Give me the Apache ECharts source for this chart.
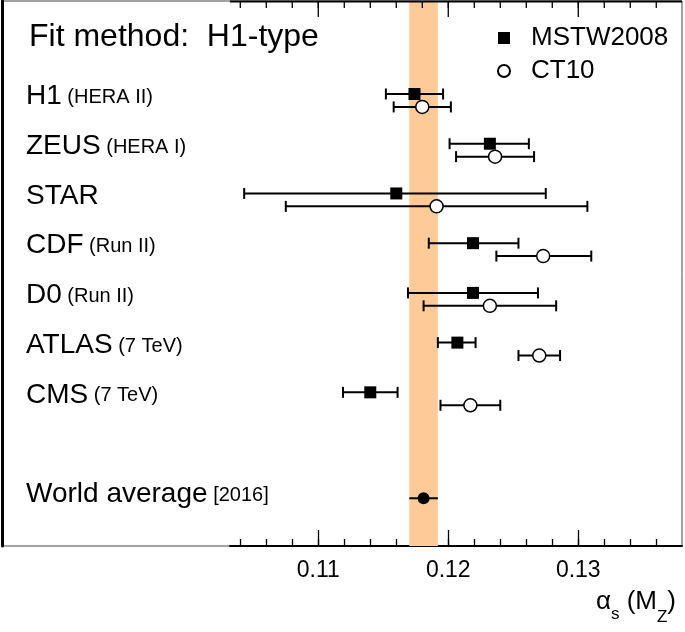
<!DOCTYPE html>
<html>
<head>
<meta charset="utf-8">
<script src="https://cdn.jsdelivr.net/npm/echarts@6/dist/echarts.min.js"></script>
<style>html,body{margin:0;padding:0;background:#fff;}#c{width:685px;height:632px;}</style>
</head>
<body>
<div id="c"></div>
<script>
// ---- data ----
const rowNames   = ['H1', 'ZEUS', 'STAR', 'CDF', 'D0', 'ATLAS', 'CMS'];
const rowSubs    = ['(HERA II)', '(HERA I)', '', '(Run II)', '(Run II)', '(7 TeV)', '(7 TeV)'];
const mstwCentral = [0.1174, 0.1232, 0.1160, 0.1219, 0.1219, 0.1207, 0.1140];
const mstwLow     = [0.1152, 0.1201, 0.1043, 0.1185, 0.1169, 0.1192, 0.1119];
const mstwHigh    = [0.1196, 0.1262, 0.1275, 0.1254, 0.1269, 0.1221, 0.1161];
const ct10Central = [0.1180, 0.1236, 0.1191, 0.1273, 0.1232, 0.1270, 0.1217];
const ct10Low     = [0.1158, 0.1206, 0.1075, 0.1237, 0.1181, 0.1254, 0.1194];
const ct10High    = [0.1202, 0.1266, 0.1307, 0.1310, 0.1283, 0.1286, 0.1240];
const worldName = 'World average';
const worldSub  = '[2016]';
const worldCentral = 0.1181;
const worldError   = 0.0011;
const majorTicks = [0.11, 0.12, 0.13];
const minorTicks = [0.104,0.106,0.108,0.110,0.112,0.114,0.116,0.118,0.120,0.122,0.124,0.126,0.128,0.130,0.132,0.134,0.136];
const tickLabels = ['0.11', '0.12', '0.13'];

// ---- layout ----
const FONT = '"Liberation Sans", Arial, sans-serif';
const WORLD_ROW = 8;
const OFF = 0.13;
const XMAX = 0.13798;
const XMIN_FULL = 0.085669;
const XMIN_AXIS = 0.103208;
const YMIN = -2, YMAX = 8.96;
const MAJOR_PX = 16, MINOR_PX = 7;

const labelMap = {};
rowNames.forEach((n, i) => { labelMap[i] = '{a|' + n + '}' + (rowSubs[i] ? '{b| ' + rowSubs[i] + '}' : ''); });
labelMap[WORLD_ROW] = '{a|' + worldName + '}{b| ' + worldSub + '}';

const mstwPts = rowNames.map((_, i) => [mstwCentral[i], i - OFF]);
const ct10Pts = rowNames.map((_, i) => [ct10Central[i], i + OFF]);
const mstwBars = rowNames.map((_, i) => [mstwLow[i], mstwHigh[i], i - OFF]);
const ct10Bars = rowNames.map((_, i) => [ct10Low[i], ct10High[i], i + OFF]);
const worldBars = [[worldCentral - worldError, worldCentral + worldError, WORLD_ROW]];

function errRender(caps) {
  return function (params, api) {
    const a = api.coord([api.value(0), api.value(2)]);
    const b = api.coord([api.value(1), api.value(2)]);
    const st = { stroke: '#000', lineWidth: 2 };
    const ch = [{ type: 'line', shape: { x1: a[0], y1: a[1], x2: b[0], y2: b[1] }, style: st }];
    if (caps) {
      const h = 5.5;
      ch.push({ type: 'line', shape: { x1: a[0], y1: a[1] - h, x2: a[0], y2: a[1] + h }, style: st });
      ch.push({ type: 'line', shape: { x1: b[0], y1: b[1] - h, x2: b[0], y2: b[1] + h }, style: st });
    }
    return { type: 'group', children: ch };
  };
}

const chart = echarts.init(document.getElementById('c'), null, { renderer: 'canvas' });
const grids = [
  { left: 2, top: 1, right: 3, bottom: 86, show: true, borderColor: '#444', borderWidth: 1, backgroundColor: 'transparent' },
  { left: 230, top: 1, right: 3, bottom: 86, show: false },
  { left: 230, top: 1, right: 3, bottom: 86, show: false }
];

const tickAxis = (grid, vals, len, withLabel, line) => ({
  type: 'value', gridIndex: grid, position: 'bottom', min: XMIN_AXIS, max: XMAX,
  axisLine: { show: line, onZero: false, lineStyle: { color: '#000', width: 2 } },
  axisTick: { show: true, inside: true, length: len, customValues: vals, lineStyle: { color: '#000', width: 1.3 } },
  axisLabel: withLabel ? {
    show: true, customValues: majorTicks, margin: 13, fontSize: 23, color: '#000', fontFamily: FONT,
    formatter: v => { const k = majorTicks.findIndex(m => Math.abs(m - v) < 1e-6); return k >= 0 ? tickLabels[k] : ''; }
  } : { show: false },
  splitLine: { show: false }
});

const cs = { xAxisIndex: 0, yAxisIndex: 0, silent: true };

const axisNameEl = {
  id: 'axisName', type: 'text', right: 9, top: 589, z: 100,
  style: {
    text: '{a|α}{s|s}{a| (M}{z|Z}{a|)}',
    fill: '#000',
    rich: {
      a: { fontFamily: FONT, fontSize: 26, fill: '#000', verticalAlign: 'bottom', lineHeight: 30 },
      s: { fontFamily: FONT, fontSize: 17, fill: '#000', verticalAlign: 'bottom', lineHeight: 30, padding: [0, 0, -8, 0] },
      z: { fontFamily: FONT, fontSize: 17, fill: '#000', verticalAlign: 'bottom', lineHeight: 30, padding: [0, 0, -11, 0] }
    }
  }
};

const option = {
  animation: false,
  backgroundColor: '#fff',
  textStyle: { fontFamily: FONT },
  grid: grids,
  title: {
    text: 'Fit method:  H1-type', left: 29, top: 21, padding: 0,
    textStyle: { fontFamily: FONT, fontSize: 32, fontWeight: 'normal', color: '#000' }
  },
  legend: {
    data: ['MSTW2008', 'CT10'], orient: 'vertical', left: 497, top: 25, padding: 0,
    itemWidth: 12, itemHeight: 12, itemGap: 7,
    textStyle: { fontFamily: FONT, fontSize: 26, color: '#000', lineHeight: 26, padding: [0, 0, 0, 16] }
  },
  graphic: [axisNameEl],
  xAxis: [
    { type: 'value', gridIndex: 0, min: XMIN_FULL, max: XMAX, show: false },
    tickAxis(1, majorTicks, 16, true, true),
    tickAxis(2, minorTicks, 7, false, false)
  ],
  yAxis: [
    {
      type: 'value', gridIndex: 0, inverse: true, min: YMIN, max: YMAX, interval: 1,
      axisLine: { show: true, onZero: false, lineStyle: { color: '#000', width: 3 } },
      axisTick: { show: false }, splitLine: { show: false },
      axisLabel: {
        inside: true, margin: 24, showMaxLabel: false, showMinLabel: false,
        formatter: v => labelMap[v] || '',
        rich: {
          a: { fontFamily: FONT, fontSize: 28, color: '#000', verticalAlign: 'bottom', padding: [0, 0, 8, 0] },
          b: { fontFamily: FONT, fontSize: 20, color: '#000', verticalAlign: 'bottom', padding: [0, 0, 11, 0] }
        }
      }
    },
    { type: 'value', gridIndex: 1, min: 0, max: 1, show: false },
    { type: 'value', gridIndex: 2, min: 0, max: 1, show: false }
  ],
  series: [
    Object.assign({
      name: 'band', type: 'custom', z: 1,
      renderItem: () => ({ type: 'group', children: [] }), data: [],
      markArea: {
        silent: true, itemStyle: { color: '#fecb98' },
        data: [[{ xAxis: worldCentral - worldError }, { xAxis: worldCentral + worldError }]]
      }
    }, cs),
    Object.assign({ name: 'mstwErr', type: 'custom', z: 3, renderItem: errRender(true), encode: { x: [0, 1], y: 2 }, data: mstwBars }, cs),
    Object.assign({ name: 'ct10Err', type: 'custom', z: 3, renderItem: errRender(true), encode: { x: [0, 1], y: 2 }, data: ct10Bars }, cs),
    Object.assign({ name: 'worldErr', type: 'custom', z: 3, renderItem: errRender(false), encode: { x: [0, 1], y: 2 }, data: worldBars }, cs),
    {
      name: 'MSTW2008', type: 'scatter', xAxisIndex: 0, yAxisIndex: 0, z: 5,
      symbol: 'rect', symbolSize: 12, itemStyle: { color: '#000', opacity: 1 }, data: mstwPts
    },
    {
      name: 'CT10', type: 'scatter', xAxisIndex: 0, yAxisIndex: 0, z: 5,
      symbol: 'circle', symbolSize: 13, itemStyle: { color: '#fff', borderColor: '#000', borderWidth: 1.5, opacity: 1 }, data: ct10Pts
    },
    {
      name: 'world', type: 'scatter', xAxisIndex: 0, yAxisIndex: 0, z: 5,
      symbol: 'circle', symbolSize: 12, itemStyle: { color: '#000', opacity: 1 }, data: [[worldCentral, WORLD_ROW]]
    }
  ]
};
chart.setOption(option);

// top-edge axis line and inward ticks, positioned through the chart's own x scale
const px = (v) => chart.convertToPixel({ xAxisIndex: 0, yAxisIndex: 0 }, [v, YMIN]);
const topEls = [axisNameEl];
const l0 = px(XMIN_AXIS), l1 = px(XMAX);
topEls.push({ id: 'topLine', type: 'line', z: 100, silent: true,
  shape: { x1: l0[0], y1: l0[1] + 0.5, x2: l1[0], y2: l1[1] + 0.5 }, style: { stroke: '#000', lineWidth: 2 } });
majorTicks.forEach((v, i) => {
  const p = px(v);
  topEls.push({ id: 'tM' + i, type: 'line', z: 100, silent: true,
    shape: { x1: p[0], y1: p[1], x2: p[0], y2: p[1] + MAJOR_PX }, style: { stroke: '#000', lineWidth: 1.3 } });
});
minorTicks.forEach((v, i) => {
  const p = px(v);
  topEls.push({ id: 'tm' + i, type: 'line', z: 100, silent: true,
    shape: { x1: p[0], y1: p[1], x2: p[0], y2: p[1] + MINOR_PX }, style: { stroke: '#000', lineWidth: 1.3 } });
});
chart.setOption({ graphic: topEls });
</script>
</body>
</html>
